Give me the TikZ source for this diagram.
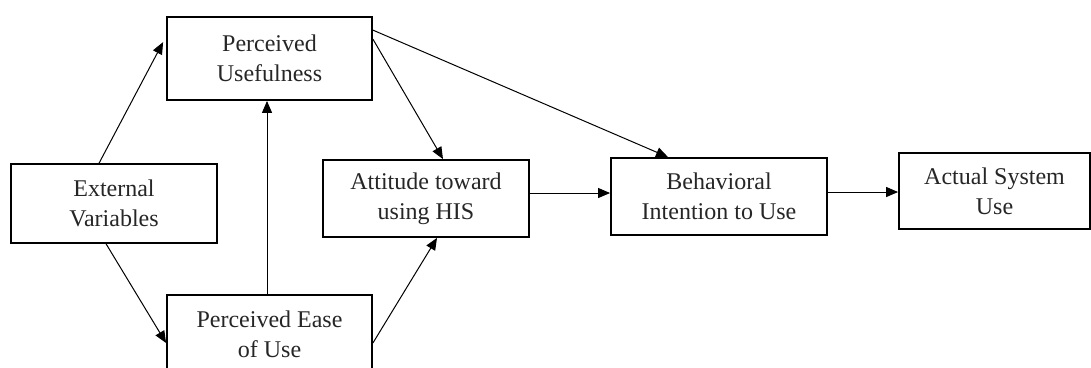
\documentclass[tikz,border=0pt]{standalone}
\usepackage{fontspec}
\setmainfont{Liberation Serif}
\usetikzlibrary{arrows.meta}
\begin{document}
\begin{tikzpicture}[x=1pt,y=-1pt,
  box/.style={draw=black,line width=1.8pt,inner sep=0pt,align=center,
    font=\fontsize{24}{30}\selectfont,text=black!85},
  arr/.style={line width=1pt,-{Triangle[length=12pt,width=10pt]}}]
\useasboundingbox (0,0) rectangle (1091,367);
\clip (0,0) rectangle (1091,367);
\node[box,minimum width=205pt,minimum height=83pt] (pu) at (269.5,58.5) {Perceived\\Usefulness};
\node[box,minimum width=206pt,minimum height=79pt] (ev) at (114,203.5) {External\\Variables};
\node[box,minimum width=205pt,minimum height=78pt] (peou) at (269.5,334) {Perceived Ease\\of Use};
\node[box,minimum width=206pt,minimum height=77pt] (att) at (426,198.5) {Attitude toward\\using HIS};
\node[box,minimum width=216pt,minimum height=77pt] (bi) at (719,196.5) {Behavioral\\Intention to Use};
\node[box,minimum width=191pt,minimum height=76pt] (asu) at (994.5,191) {Actual System\\Use};
\draw[arr] ([xshift=89pt]ev.north west) -- ([xshift=-3pt,yshift=-26pt]pu.north west);
\draw[arr] ([xshift=96pt]ev.south west) -- ([yshift=-9pt]peou.west);
\draw[arr] ([xshift=-2.5pt]peou.north) -- ([xshift=-2.5pt]pu.south);
\draw[arr] ([yshift=-9pt]peou.east) -- ([xshift=11pt]att.south);
\draw[arr] ([yshift=-23pt]pu.north east) -- ([xshift=17pt]att.north);
\draw[arr] ([yshift=-14pt]pu.north east) -- ([xshift=-51pt]bi.north);
\draw[arr] ([yshift=5.5pt]att.east) -- ([yshift=5.5pt]att.east -| bi.west);
\draw[arr] ([yshift=4.5pt]bi.east) -- ([yshift=4.5pt]bi.east -| asu.west);
\end{tikzpicture}
\end{document}
